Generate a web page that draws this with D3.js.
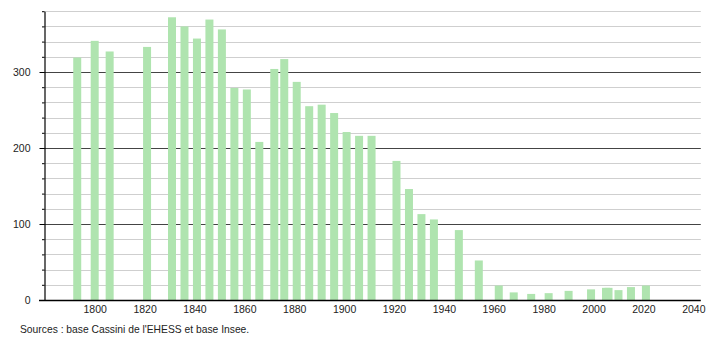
<!DOCTYPE html>
<html>
<head>
<meta charset="utf-8">
<script src="https://cdn.jsdelivr.net/npm/d3@7"></script>
<style>
  html, body { margin: 0; padding: 0; background: #fff; }
  svg { display: block; }
  text { font-family: "Liberation Sans", Arial, sans-serif; fill: #222; }
</style>
</head>
<body>
<svg id="chart" width="710" height="340"></svg>
<script>
const years = [1793,1800,1806,1821,1831,1836,1841,1846,1851,1856,1861,1866,1872,1876,1881,1886,1891,1896,1901,1906,1911,1921,1926,1931,1936,1946,1954,1962,1968,1975,1982,1990,1999,2005,2006,2010,2015,2021];
const population = [319,341,327,333,372,360,344,369,356,279,277,208,304,317,287,255,257,246,221,216,216,183,146,113,106,92,52,19,10,8,9,12,14,16,16,13,17,19];
const xTickLabels = [1800,1820,1840,1860,1880,1900,1920,1940,1960,1980,2000,2020,2040];
const yTickLabels = [0,100,200,300];
const sourceText = "Sources : base Cassini de l'EHESS et base Insee.";

const svg = d3.select("#chart");
const x = d3.scaleLinear().domain([1780, 2043]).range([44.8, 700.8]);
const y = d3.scaleLinear().domain([0, 380]).range([300, 11.2]);
const left = 44, right = 700.8;

// grid lines (minor every 20, major every 100)
const gridVals = d3.range(20, 381, 20);
svg.append("g").selectAll("line").data(gridVals).join("line")
  .attr("x1", left).attr("x2", right)
  .attr("y1", d => Math.round(y(d)) + 0.5).attr("y2", d => Math.round(y(d)) + 0.5)
  .attr("stroke", d => d % 100 === 0 ? "#444" : "#cfcfcf")
  .attr("stroke-width", d => d % 100 === 0 ? 1.2 : 1.1);

// bars
const data = years.map((yr, i) => ({year: yr, value: population[i]}));
svg.append("g").selectAll("rect").data(data).join("rect")
  .attr("x", d => x(d.year) - 4)
  .attr("width", 8)
  .attr("y", d => y(d.value))
  .attr("height", d => y(0) - y(d.value))
  .attr("fill", "#afe4af");

// y axis
const yAxis = d3.axisLeft(y)
  .tickValues(d3.range(0, 381, 20))
  .tickSize(0)
  .tickFormat("");
const yg = svg.append("g").attr("transform", `translate(${left + 0.5},0)`).call(yAxis);
yg.select(".domain").attr("stroke", "#000").attr("stroke-width", 1.2);
yg.selectAll(".tick line")
  .attr("x2", d => d % 100 === 0 ? -5 : -2.5)
  .attr("stroke", "#000");
yg.selectAll(".tick").filter(d => yTickLabels.includes(d))
  .append("text")
  .attr("x", -14).attr("dy", "0.35em")
  .attr("text-anchor", "end")
  .attr("font-size", "10.5px")
  .text(d => d);

// x axis
const xAxis = d3.axisBottom(x).tickValues(xTickLabels).tickSize(0).tickPadding(5).tickFormat(d3.format("d"));
const xg = svg.append("g").attr("transform", `translate(0,${y(0) + 0.5})`).call(xAxis);
xg.select(".domain").remove();
xg.selectAll(".tick text").attr("font-size", "10.5px").style("font-family", '"Liberation Sans", Arial, sans-serif').attr("fill", "#222");
svg.append("line").attr("x1", 39).attr("x2", right)
  .attr("y1", Math.round(y(0)) + 0.5).attr("y2", Math.round(y(0)) + 0.5)
  .attr("stroke", "#000").attr("stroke-width", 1.3);

// source
svg.append("text").attr("x", 20).attr("y", 333)
  .attr("font-size", "10.3px")
  .text(sourceText);
</script>
</body>
</html>
